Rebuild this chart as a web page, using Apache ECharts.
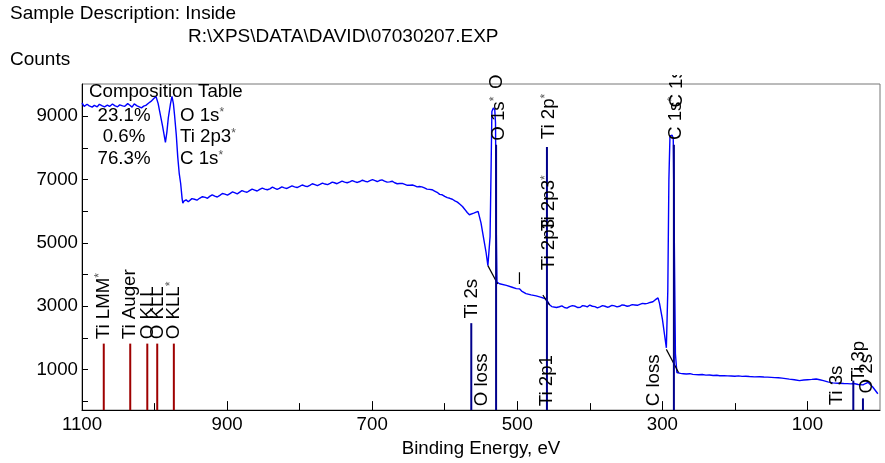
<!DOCTYPE html>
<html><head><meta charset="utf-8">
<script src="https://cdn.jsdelivr.net/npm/echarts@6/dist/echarts.min.js"></script>
<style>html,body{margin:0;padding:0;background:#fff}#c{width:885px;height:463px}</style>
</head><body><div id="c"></div>
<script>
const FONT = '"Liberation Sans", Arial, sans-serif';
const headerLine1 = 'Sample Description: Inside';
const headerLine2 = 'R:\\XPS\\DATA\\DAVID\\07030207.EXP';
const yAxisTitle = 'Counts';
const xAxisTitle = 'Binding Energy, eV';
const xTickLabels = [100, 300, 500, 700, 900, 1100];
const xMinorTicks = [200, 400, 600, 800, 1000];
const yTickLabels = [1000, 3000, 5000, 7000, 9000];
const yTicks = [0, 1000, 2000, 3000, 4000, 5000, 6000, 7000, 8000, 9000];
const compositionTitle = 'Composition Table';
const compositionPct = ['23.1%', '0.6%', '76.3%'];
const compositionName = ['O 1s', 'Ti 2p3', 'C 1s'];

// survey spectrum: [binding energy eV, counts]
const spectrumHigh = [[1100,9420],[1097,9315],[1093,9380],[1090,9330],[1086,9290],[1083,9346],[1079,9300],[1076,9380],[1072,9330],[1069,9296],[1065,9350],[1062,9310],[1058,9390],[1055,9337],[1051,9300],[1048,9360],[1044,9330],[1041,9315],[1037,9400],[1034,9350],[1031,9290],[1028,9390],[1024,9330],[1021,9300],[1018,9265],[1015,9320],[1012,9346],[1008,9420],[1005,9470],[1001,9560],[998,9627],[995,9400],[993,9160],[989,8700],[985,8176],[983,8500],[981,8954],[978,9400],[976,9627],[974,9400],[972.5,9057],[970,8400],[968,7709],[966,7200],[964,6877],[962,6400]];
const spectrumPlateau = [[961,6255],[959.5,6320],[958,6290],[956.5,6360],[955,6330],[953.5,6300],[952,6348],[948.5,6400],[945,6380],[941.5,6350],[938,6410],[934,6460],[930,6440],[927,6410],[924,6470],[920.5,6520],[917,6480],[913.5,6450],[910,6504],[906.5,6560],[903,6540],[899.5,6510],[896,6560],[892.5,6610],[889,6580],[886,6550],[883,6597],[879.5,6650],[876,6620],[872.5,6600],[869,6650],[865.5,6700],[862,6670],[858.5,6640],[855,6691],[851.5,6730],[848,6700],[844.5,6680],[841,6710],[837.5,6760],[834,6720],[831,6690],[828,6722],[824.5,6770],[821,6740],[817.5,6720],[814,6760],[810.5,6800],[807,6770],[803.5,6750],[800,6784],[796.5,6830],[793,6800],[789.5,6780],[786,6820],[782.5,6870],[779,6840],[775.5,6810],[772,6847],[768.5,6890],[765,6860],[761.5,6840],[758,6880],[755,6920],[752,6900],[748.5,6870],[745,6909],[741.5,6950],[738,6920],[734.5,6900],[731,6930],[727.5,6970],[724,6935],[720.5,6910],[717,6940],[713.5,6980],[710,6950],[706.5,6930],[703,6965],[699.5,7000],[696,6970],[693,6940],[690,6971],[686.5,6990],[683,6950],[679.5,6920],[676,6930],[672.5,6950],[669,6900],[665.5,6870],[662,6878],[658.5,6880],[655,6850],[651.5,6820],[648,6820],[644.5,6830],[641,6800],[638,6770],[635,6784],[631.5,6770],[628,6740],[624.5,6700],[621,6690],[617.5,6680],[614,6640],[610.5,6600],[607,6535],[603.5,6520],[600,6470],[596.5,6430],[593,6410],[589.5,6380],[586,6330],[582.5,6290],[579,6224],[575.5,6150],[572,6050],[569,5960],[566,5890]];
const spectrumO1sTi2p = [[560,5940],[554,5996],[550,5632],[546,5100],[543,4698],[540.5,4284],[539,4231],[537.5,5200],[536,7500],[535,9150],[533,9265],[531,9200],[530,8800],[529,5500],[528,3764],[524.4,3711],[515,3661],[507,3600],[501.4,3556],[499,3500],[497,3550],[494,3480],[488,3400],[481,3360],[474,3328],[468,3290],[462,3244],[460,3297],[458,3150],[455.5,3048],[452.5,2990],[450,3000],[446,2960],[442,2985],[438.5,3010],[435,2960],[431.5,2940],[428,2990],[424,3020],[420,3000],[416.5,2960],[413,2970],[410,3020],[407,3010],[403.5,2980],[400,3038],[396.5,3000],[393,2990],[389.5,2950],[386,2980],[382.5,3020],[379,3000],[376,2970],[373,2985],[369.5,3030],[366,3010],[362.5,2980],[359,3000],[355.5,3040],[352,3030],[348.5,3000],[345,3017],[341.5,3050],[338,3040],[334.5,3030],[331,3060],[327.5,3090],[324,3080],[320.5,3090],[317,3120],[313,3141]];
const spectrumC1sLow = [[310,3200],[306,3266],[304,3100],[300,2600],[297,2100],[294.5,1688],[292.5,3500],[291,7000],[289.5,8381],[286.5,8400],[285,8300],[283.5,5000],[282,1500],[280,909],[278.5,900],[275,880],[271,870],[267,859],[262,870],[258,850],[254,840],[250,835],[245,845],[240,825],[235,830],[230,815],[225,820],[221,806],[215,810],[210,800],[205,795],[200,790],[195,800],[190,785],[185,790],[180,780],[173,770],[166,775],[160,765],[155,760],[150,755],[145,745],[140,740],[135,730],[130,715],[125,700],[118,680],[111,651],[105,670],[100,680],[94,690],[88,703],[83,680],[78,650],[72,610],[65,579],[58,570],[50,560],[45,555],[40,548],[36,560],[30,530],[23.5,517],[20,560],[16.6,598],[10,450],[3,237]];

// background (black) segments
const bgO1s = [[540.5, 4284], [527, 3700]];
const bgTi2p = [[464.7, 3350], [455.5, 3040]];
const bgC1s = [[294.5, 1638], [277.7, 909]];
const smallMark = [[497, 3700], [497, 4075]];

// marker lines
const markerEV =    [1070, 1033.5, 1010, 996.3, 973.4, 563.4, 529.2, 459.1, 284.1, 36.8, 23.5];
const markerTop =   [1820, 1820, 1820, 1820, 1820, 2466, 8100, 8030, 8100, 651, 90];
const markerKind =  ['a','a','a','a','a','p','p','p','p','p','p'];

// marker labels
const labelText =  ['Ti LMM','Ti Auger','O KLL','O KLL','O KLL','Ti 2s','O loss','O 1s','O 1s','Ti 2p','Ti 2p3','Ti 2p3','Ti 2p1','C loss','C 1s','C 1s','Ti 3s','Ti 3p','O 2s'];
const labelStar =  [1,0,0,0,1,0,0,1,0,1,1,0,0,0,1,0,0,0,0];
const labelEV =    [1070.4,1033.5,1009.3,995.5,973.4,563,549.2,526,528,456.5,456.5,456.5,459,312.3,281.5,280.5,60.1,29.4,18.8];
const labelCount = [1958,1958,1958,1958,1958,2610,-160,8225,9866,8275,5370,4138,-160,-160,8250,9275,-130,620,246];

const Y_MIN = -280, Y_MAX = 10020;
const FS = 18.7;

const spectrum = spectrumHigh.concat(spectrumPlateau, spectrumO1sTi2p, spectrumC1sLow);
const markers = markerEV.map((e, i) => [e, markerTop[i], markerKind[i] === 'a' ? 0 : 1]);
const labels = labelEV.map((e, i) => [e, labelCount[i], i]);

const chart = echarts.init(document.getElementById('c'), null, {renderer: 'canvas'});

function seg(data, color) {
  return {type: 'line', data: data, showSymbol: false, symbol: 'none', silent: true,
    lineStyle: {color: color, width: 1.2}, z: 4, animation: false};
}
const plain = v => String(v);

const option = {
  animation: false,
  grid: {left: 82, right: 5, top: 84, bottom: 48, show: true, borderColor: '#777', borderWidth: 1},
  xAxis: [{
    type: 'value', min: 0, max: 1100, inverse: true, position: 'bottom',
    name: xAxisTitle, nameLocation: 'middle', nameGap: 22,
    nameTextStyle: {fontSize: FS, fontFamily: FONT, color: '#000'},
    axisLine: {show: true, onZero: false, lineStyle: {color: '#000', width: 1}},
    axisTick: {show: true, inside: true, length: 9, customValues: xTickLabels, lineStyle: {color: '#000'}},
    axisLabel: {show: true, customValues: xTickLabels, formatter: plain, fontSize: FS, fontFamily: FONT, color: '#000', margin: 5},
    splitLine: {show: false}
  }, {
    type: 'value', min: 0, max: 1100, inverse: true, position: 'bottom', offset: 0,
    axisLine: {show: false, onZero: false},
    axisTick: {show: true, inside: true, length: 7, customValues: xMinorTicks, lineStyle: {color: '#000'}},
    axisLabel: {show: false},
    splitLine: {show: false}
  }],
  yAxis: {
    type: 'value', min: Y_MIN, max: Y_MAX, position: 'left',
    axisLine: {show: true, onZero: false, lineStyle: {color: '#000', width: 1}},
    axisTick: {show: true, inside: true, length: 6, customValues: yTicks, lineStyle: {color: '#000'}},
    axisLabel: {show: true, customValues: yTickLabels, formatter: plain, fontSize: FS, fontFamily: FONT, color: '#000', margin: 4},
    splitLine: {show: false}
  },
  graphic: [
    {type: 'text', x: 10, y: 14, z: 200, style: {text: headerLine1, font: '19px ' + FONT, fill: '#000', verticalAlign: 'middle'}},
    {type: 'text', x: 188, y: 37, z: 200, style: {text: headerLine2, font: '19px ' + FONT, fill: '#000', verticalAlign: 'middle'}},
    {type: 'text', x: 10, y: 60, z: 200, style: {text: yAxisTitle, font: '19px ' + FONT, fill: '#000', verticalAlign: 'middle'}},
    {type: 'rect', shape: {x: 430, y: 48, width: 300, height: 27}, style: {fill: '#fff'}, z: 150},
    {type: 'text', x: 89, y: 92, z: 200, style: {text: compositionTitle, font: FS + 'px ' + FONT, fill: '#000', verticalAlign: 'middle'}},
    ...compositionPct.map((t, i) => ({type: 'text', x: 124, y: 115.7 + i * 21.5, z: 200,
      style: {text: t, font: FS + 'px ' + FONT, fill: '#000', align: 'center', verticalAlign: 'middle'}})),
    ...compositionName.map((t, i) => ({type: 'text', x: 180, y: 115.7 + i * 21.5, z: 200,
      style: {text: '{a|' + t + '}{s|*}', fill: '#000', verticalAlign: 'middle',
        rich: {a: {fontSize: FS, fontFamily: FONT, fill: '#000', color: '#000'},
               s: {fontSize: 12, fontFamily: FONT, fill: '#555', color: '#555', verticalAlign: 'top'}}}}))
  ],
  series: [
    {
      type: 'line', data: spectrum, showSymbol: false, symbol: 'none', silent: true,
      lineStyle: {color: '#0000ff', width: 1.4}, z: 3
    },
    seg(bgO1s, '#000'), seg(bgTi2p, '#000'), seg(bgC1s, '#000'), seg(smallMark, '#000'),
    {
      type: 'custom', data: markers, silent: true, z: 5, clip: false,
      renderItem: function (params, api) {
        const p0 = api.coord([api.value(0), Y_MIN]);
        const p1 = api.coord([api.value(0), api.value(1)]);
        return {type: 'line', shape: {x1: p0[0], y1: p0[1], x2: p1[0], y2: p1[1]},
          style: {stroke: api.value(2) === 0 ? '#9e0000' : '#00008b', lineWidth: 2}};
      }
    },
    {
      type: 'custom', data: labels, silent: true, z: 6, clip: false,
      renderItem: function (params, api) {
        const p = api.coord([api.value(0), api.value(1)]);
        const i = api.value(2);
        const txt = '{a|' + labelText[i] + '}' + (labelStar[i] ? '{s|*}' : '');
        return {type: 'text', x: p[0], y: p[1], rotation: Math.PI / 2,
          style: {text: txt, fill: '#000', align: 'left', verticalAlign: 'middle',
            rich: {a: {fontSize: FS, fontFamily: FONT, fill: '#000', color: '#000'},
                   s: {fontSize: 12, fontFamily: FONT, fill: '#555', color: '#555', verticalAlign: 'top'}}}};
      }
    }
  ]
};
chart.setOption(option);
</script></body></html>
